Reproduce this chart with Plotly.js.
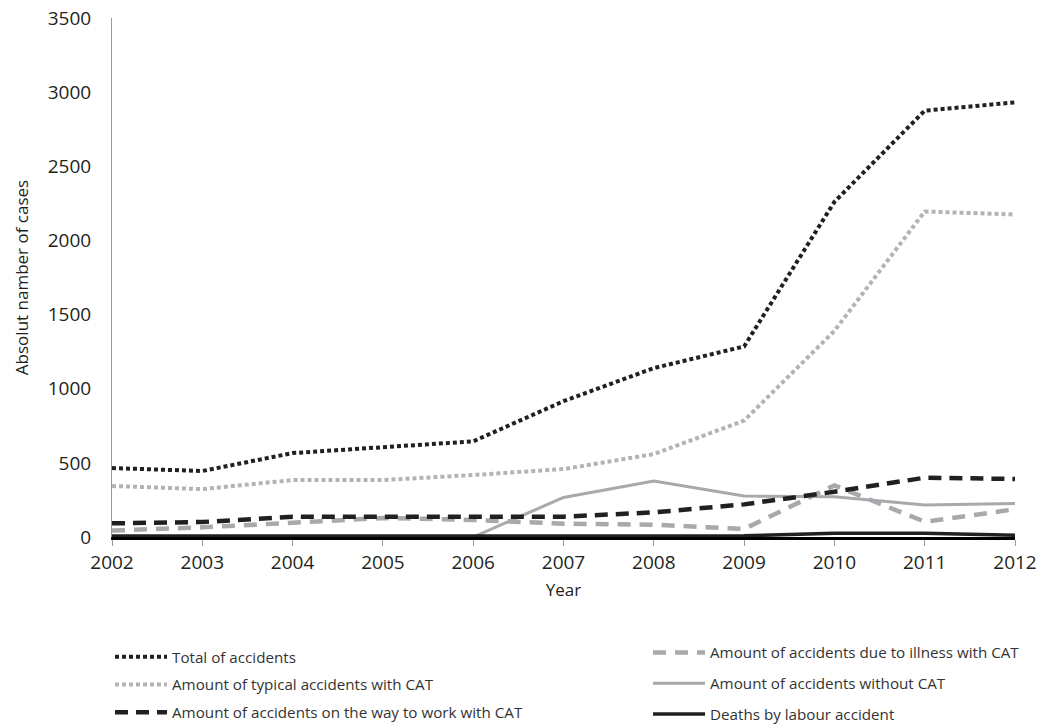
<!DOCTYPE html>
<html>
<head>
<meta charset="utf-8">
<script src="https://cdn.plot.ly/plotly-3.0.1.min.js"></script>
<style>html,body{margin:0;padding:0;background:#fff;}#chart{width:1039px;height:725px;}</style>
</head>
<body>
<div id="chart"></div>
<script>
const years = [2002, 2003, 2004, 2005, 2006, 2007, 2008, 2009, 2010, 2011, 2012];
const totalAccidents = [465, 445, 566, 606, 645, 916, 1139, 1285, 2260, 2875, 2931];
const typicalWithCAT = [344, 323, 384, 384, 418, 458, 559, 785, 1390, 2195, 2175];
const wayToWorkWithCAT = [92, 101, 137, 137, 133, 137, 166, 220, 305, 400, 391];
const illnessWithCAT = [43, 65, 96, 128, 115, 90, 83, 54, 348, 103, 187];
const withoutCAT = [0, 0, 0, 0, 0, 267, 377, 276, 271, 216, 226];
const deaths = [6, 6, 6, 6, 6, 6, 6, 8, 25, 25, 12];
const seriesNames = [
  "Total of accidents",
  "Amount of typical accidents with CAT",
  "Amount of accidents on the way to work with CAT",
  "Amount of accidents due to illness with CAT",
  "Amount of accidents without CAT",
  "Deaths by labour accident"
];

const black = "#231f20";
const grey = "#a7a9ac";

const traces = [
  {x: years, y: withoutCAT, name: seriesNames[4], mode: "lines", legend: "legend2", legendgroup: "e", legendrank: 2,
   line: {color: grey, width: 3}},
  {x: years, y: illnessWithCAT, name: seriesNames[3], mode: "lines", legend: "legend2", legendgroup: "d", legendrank: 1,
   line: {color: grey, width: 4.5, dash: "13px,9px"}},
  {x: years, y: wayToWorkWithCAT, name: seriesNames[2], mode: "lines", legend: "legend", legendgroup: "c", legendrank: 3,
   line: {color: black, width: 4.5, dash: "13px,8px"}},
  {x: years, y: typicalWithCAT, name: seriesNames[1], mode: "lines", legend: "legend", legendgroup: "b", legendrank: 2,
   line: {color: "#b3b3b3", width: 4, dash: "4px,3px"}},
  {x: years, y: totalAccidents, name: seriesNames[0], mode: "lines", legend: "legend", legendgroup: "a", legendrank: 1,
   line: {color: black, width: 4, dash: "4px,3px"}},
  {x: years, y: deaths, name: seriesNames[5], mode: "lines", legend: "legend2", legendgroup: "f", legendrank: 3,
   line: {color: black, width: 3.5}}
];

const fontFam = "'Open Sans', sans-serif";

const layout = {
  width: 1039, height: 725,
  paper_bgcolor: "#fff", plot_bgcolor: "#fff",
  margin: {l: 112, r: 24, t: 18, b: 188, autoexpand: false},
  font: {family: fontFam, color: "#231f20", size: 16},
  xaxis: {
    range: [2002, 2012], tickvals: years, ticktext: years.map(String),
    showgrid: false, zeroline: false, showline: true, linecolor: "#000", linewidth: 3,
    ticks: "outside", ticklen: 6, tickcolor: "#999", tickwidth: 1,
    tickfont: {size: 19, family: fontFam},
    title: {text: "Year", font: {size: 17, family: fontFam}, standoff: 11}
  },
  yaxis: {
    range: [0, 3500], dtick: 500, tick0: 0,
    showgrid: false, zeroline: false, showline: true, linecolor: "#999", linewidth: 1,
    ticks: "", ticklabelstandoff: 16,
    tickfont: {size: 19, family: fontFam},
    title: {text: "Absolut namber of cases", font: {size: 17, family: fontFam}, standoff: 14}
  },
  showlegend: true,
  legend: {
    x: -0.0022, y: -0.199, xanchor: "left", yanchor: "top", orientation: "v",
    tracegroupgap: 5, traceorder: "grouped",
    font: {size: 15.2, family: fontFam, color: "#333"}, itemwidth: 52, bgcolor: "rgba(0,0,0,0)"
  },
  legend2: {
    x: 0.5936, y: -0.191, xanchor: "left", yanchor: "top", orientation: "v",
    tracegroupgap: 8, traceorder: "grouped",
    font: {size: 15.2, family: fontFam, color: "#333"}, itemwidth: 52, bgcolor: "rgba(0,0,0,0)"
  }
};

Plotly.newPlot("chart", traces, layout, {displayModeBar: false, staticPlot: true});
</script>
</body>
</html>
